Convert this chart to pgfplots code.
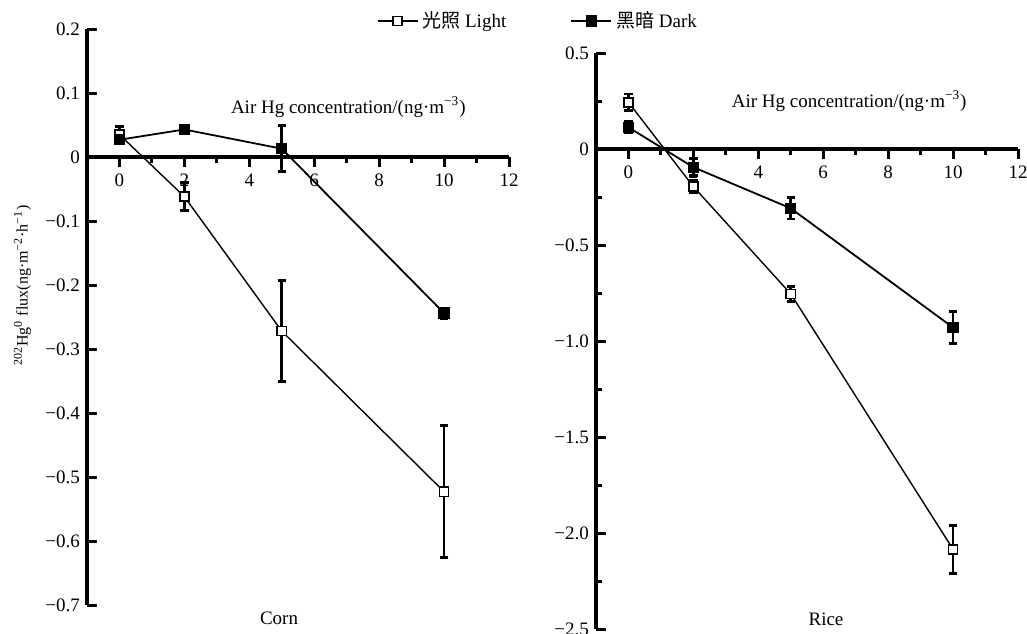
\documentclass[border=0pt]{standalone}
\usepackage{fontspec}
\setmainfont{Liberation Serif}
\newfontfamily\cjk{Noto Sans CJK SC}
\usepackage{pgfplots}
\pgfplotsset{compat=1.18}

\pgfplotsset{
  panel/.style={
    scale only axis, width=211pt, height=288pt,
    xmin=-1, xmax=12,
    axis x line=middle, axis y line=left,
    axis line style={-, line width=1.6pt},
    x axis line style={line width=1.6pt},
    y axis line style={line width=1.6pt},
    hide obscured x ticks=false, hide obscured y ticks=false,
    xtick={0,2,...,12}, xticklabels={0,2,4,6,8,10,12},
    minor xtick={1,3,...,11},
    xtick align=outside, ytick align=inside,
    major tick length=5pt, minor tick length=3pt,
    every tick/.style={black, line width=1.5pt},
    tick label style={font=\fontsize{9.5}{10}\selectfont},
    clip=false,
  },
  bars/.style={error bars/y dir=both, error bars/y explicit,
    error bars/error bar style={line width=1.4pt},
    error bars/error mark options={rotate=90, mark size=2.1pt, line width=1.4pt}},
  light/.style={bars, black, line width=0.7pt, mark=square*, mark size=2.3pt,
    mark options={fill=white, line width=0.8pt}},
  dark/.style={bars, black, line width=0.9pt, mark=square*, mark size=2.4pt,
    mark options={fill=black}},
}

\begin{document}
\begin{tikzpicture}
\useasboundingbox (0,0) rectangle (513.5pt,316.5pt);

% Corn
\begin{axis}[panel,
  at={(43.5pt,14pt)}, anchor=south west,
  ymin=-0.7, ymax=0.2,
  ytick={-0.7,-0.6,...,0.2},
  yticklabels={−0.7,−0.6,−0.5,−0.4,−0.3,−0.2,−0.1,0,0.1,0.2},
  ylabel={\textsuperscript{202}Hg\textsuperscript{0} flux(ng·m\textsuperscript{−2}·h\textsuperscript{−1})},
  ylabel style={at={(axis description cs:-0.153,0.555)}, anchor=center, font=\fontsize{8}{9}\selectfont},
  legend columns=2,
  legend style={draw=none, fill=none, at={(0.672,1.014)}, anchor=west,
    font=\fontsize{9.5}{10}\selectfont,
    /tikz/every even column/.append style={column sep=30pt}},
  legend image code/.code={\draw[mark repeat=2, mark phase=2, #1] plot coordinates {(0pt,0pt) (10pt,0pt) (20pt,0pt)};},
]
\addplot+[light] coordinates {
(0, 0.035) +- (0, 0.013)
(2, -0.062) +- (0, 0.022)
(5, -0.272) +- (0, 0.079)
(10, -0.523) +- (0, 0.103)
};
\addlegendentry{{\cjk 光照} Light}
\addplot+[dark] coordinates {
(0, 0.027) +- (0, 0.005)
(2, 0.043) +- (0, 0.005)
(5, 0.013) +- (0, 0.036)
(10, -0.244) +- (0, 0.008)
};
\addlegendentry{{\cjk 黑暗} Dark}
\node[font=\fontsize{9.5}{10}\selectfont] at (axis cs:7.05,0.078) {Air Hg concentration/(ng·m\textsuperscript{−3})};
\node[font=\fontsize{9.5}{10}\selectfont] at (axis description cs:0.455,-0.023) {Corn};
\end{axis}

% Rice
\begin{axis}[panel,
  at={(298pt,2pt)}, anchor=south west,
  ymin=-2.5, ymax=0.5,
  ytick={-2.5,-2,...,0.5},
  yticklabels={−2.5,−2.0,−1.5,−1.0,−0.5,0,0.5},
  minor ytick={-2.25,-1.75,...,0.25},
]
\addplot+[light] coordinates {
(0, 0.243) +- (0, 0.043)
(2, -0.196) +- (0, 0.030)
(5, -0.755) +- (0, 0.040)
(10, -2.085) +- (0, 0.125)
};
\addplot+[dark] coordinates {
(0, 0.113) +- (0, 0.030)
(2, -0.095) +- (0, 0.045)
(5, -0.309) +- (0, 0.056)
(10, -0.930) +- (0, 0.083)
};
\node[font=\fontsize{9.5}{10}\selectfont] at (axis cs:6.8,0.25) {Air Hg concentration/(ng·m\textsuperscript{−3})};
\node[font=\fontsize{9.5}{10}\selectfont] at (axis description cs:0.545,0.016) {Rice};
\end{axis}
\end{tikzpicture}
\end{document}
